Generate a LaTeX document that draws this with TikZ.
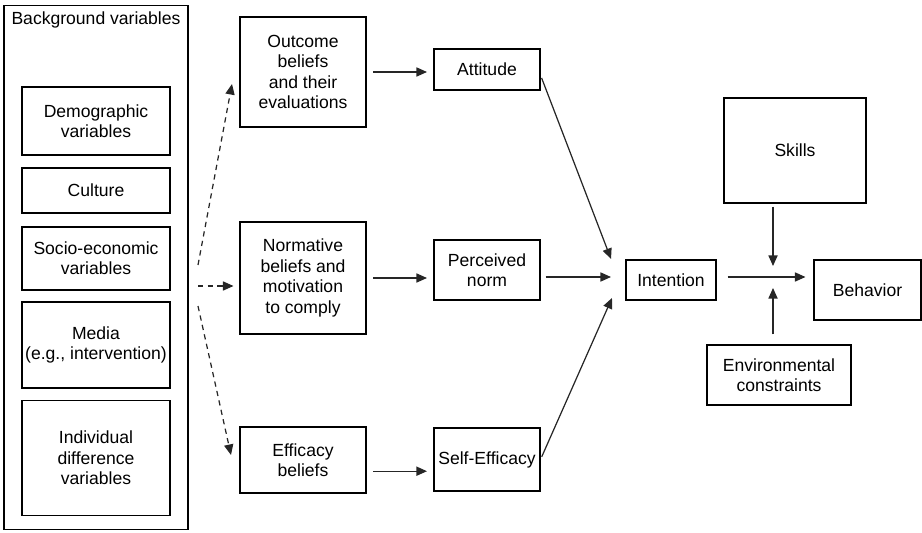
\documentclass[tikz,border=0pt]{standalone}
\usepackage{fontspec}
\setmainfont{Liberation Sans}
\usetikzlibrary{arrows.meta}

\begin{document}
\begin{tikzpicture}[x=0.02cm, y=-0.02cm,
  box/.style={draw, line width=0.6pt, align=center, inner sep=0pt, font=\fontsize{10}{11.6}\selectfont},
  leftbox/.style={box, minimum width=2.96cm},
  midbox/.style={box, minimum width=2.52cm},
  normbox/.style={box, minimum width=2.12cm},
  arr/.style={-{Triangle[length=6pt,width=5.2pt]}, line width=0.7pt, black!85},
  dasharr/.style={arr, dash pattern=on 3pt off 2.5pt}]
\useasboundingbox (0,0) rectangle (922,533);

% background variables
\node [box, minimum width=3.68cm, minimum height=10.5cm] (bg) at (96,267.5) {};
\node [font=\fontsize{10}{11.6}\selectfont] (bglabel) at (96,20) {Background variables};
\node [leftbox, minimum height=1.36cm] (demo) at (96,121) {Demographic\\variables};
\node [leftbox, minimum height=0.9cm] (culture) at (96,190.5) {Culture};
\node [leftbox, minimum height=1.26cm] (socio) at (96,258.5) {Socio-economic\\variables};
\node [leftbox, minimum height=1.72cm] (media) at (96,345) {Media\\(e.g., intervention)};
\node [leftbox, minimum height=2.3cm] (indiv) at (96,458) {Individual\\difference\\variables};

% beliefs
\node [midbox, minimum height=2.2cm] (outcome) at (303,72) {Outcome\\beliefs\\and their\\evaluations};
\node [midbox, minimum height=2.24cm] (normative) at (303,278) {Normative\\beliefs and\\motivation\\to comply};
\node [midbox, minimum height=1.32cm] (efficacy) at (303,460) {Efficacy\\beliefs};

\node [normbox, minimum height=0.82cm] (attitude) at (487,69.5) {Attitude};
\node [normbox, minimum height=1.2cm] (perceived) at (487,270) {Perceived\\norm};
\node [normbox, minimum height=1.26cm] (selfeff) at (487,459.5) {Self-Efficacy};

\node [box, minimum width=1.8cm, minimum height=0.8cm] (intention) at (671,280) {Intention};
\node [box, minimum width=2.84cm, minimum height=2.1cm] (skills) at (795,150.5) {Skills};
\node [box, minimum width=2.14cm, minimum height=1.2cm] (behavior) at (867.5,290) {Behavior};
\node [box, minimum width=2.88cm, minimum height=1.2cm] (env) at (779,375) {Environmental\\constraints};

% free ends
\coordinate (bgtop) at (198,265);
\coordinate (bgmid) at (198,286);
\coordinate (bgbot) at (198,306);
\coordinate (attin) at (611,259);
\coordinate (normin) at (611,277);
\coordinate (effin) at (612,298);
\coordinate (junc) at (773,277);

\draw [dasharr] (bgtop) -- (232,84);
\draw [dasharr] (bgmid) -- (normative.west |- bgmid) [shorten >=0.12cm];
\draw [dasharr] (bgbot) -- (231,455);

\draw [arr, shorten <=0.13cm, shorten >=0.13cm] (outcome.east) -- (attitude.west |- outcome.east);
\draw [arr, shorten <=0.13cm, shorten >=0.13cm] (normative.east) -- (perceived.west |- normative.east);
\draw [arr, shorten <=0.13cm, shorten >=0.13cm] (efficacy.-10) -- (selfeff.west |- efficacy.-10);

\draw [arr, shorten <=0.06cm] (attitude.-6) -- (attin);
\draw [arr, shorten <=0.1cm] (perceived.east |- normin) -- (normin);
\draw [arr, shorten <=0.06cm] (selfeff.east) -- (effin);

\draw [arr, shorten <=0.22cm, shorten >=0.16cm] (intention.east |- junc) -- (behavior.west |- junc);
\draw [arr, shorten <=0.06cm, shorten >=0.22cm] (skills.south -| junc) -- (junc);
\draw [arr, shorten <=0.2cm, shorten >=0.22cm] (env.north -| junc) -- (junc);
\end{tikzpicture}
\end{document}
